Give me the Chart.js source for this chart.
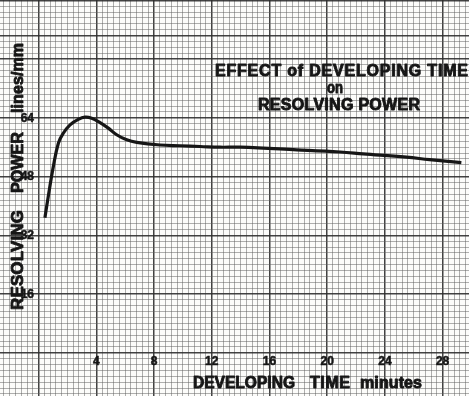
<!DOCTYPE html>
<html>
<head>
<meta charset="utf-8">
<script src="https://cdn.jsdelivr.net/npm/chart.js@4.4.1/dist/chart.umd.min.js"></script>
<style>
  html, body { margin: 0; padding: 0; background: #fcfcfa; }
  canvas { display: block; }
</style>
</head>
<body>
<canvas id="grafico" width="469" height="396"></canvas>
<script>
const devTime = [0.44, 0.67, 1.02, 1.37, 1.71, 2.18, 2.75, 3.22, 3.68, 4.26, 4.83, 5.41, 6.11, 6.80, 8.41, 9.80, 11.2, 12.57, 13.96, 17.9, 20.9, 22.5, 25.5, 27.1, 29.3];
const resolvingPower = [36.8, 42.6, 50.7, 57.1, 59.8, 62.1, 63.6, 64.2, 63.9, 62.7, 61.2, 59.4, 58.0, 57.3, 56.6, 56.4, 56.2, 56.0, 56.0, 55.3, 54.7, 54.2, 53.3, 52.6, 51.8];

// rótulos impressos no papel
const xTickLabels = [4, 8, 12, 16, 20, 24, 28];
const yTickLabels = [16, 32, 48, 64];
const titleLines = ["EFFECT of DEVELOPING TIME", "on", "RESOLVING POWER"];
const xTitle = ["DEVELOPING", "TIME", "minutes"];
const yTitle = ["RESOLVING", "POWER", "lines/mm"];

// papel: 10 divisões por quadrado maior
const X_MIN = -2.675, X_MAX = 29.83, X_STEP = 0.4;
const Y_MIN = -11.77, Y_MAX = 96.1, Y_STEP = 1.6;

const INK = "#161616";
const MINOR = "rgba(95,95,95,0.5)";
const MAJOR = "rgba(45,45,45,0.9)";

function gridTicks(min, max, step) {
  const out = [];
  for (let i = Math.ceil(min / step); i <= Math.floor(max / step); i++) {
    out.push({ value: +(i * step).toFixed(4), idx: i });
  }
  return out;
}

const isMajorX = (t) => t && t.idx % 10 === 0;
const isMajorY = (t) => t && (t.idx % 10 === 0 || t.idx === 54);

// ajusta o texto a uma largura (espaçamento ou compressão), com traço p/ engrossar
function fitText(ctx, text, x, y, w, rot) {
  ctx.save();
  ctx.translate(x, y);
  if (rot) ctx.rotate(rot);
  const n = ctx.measureText(text).width;
  if (n > w || !("letterSpacing" in ctx) || text.length < 2) {
    ctx.scale(w / n, 1);
  } else {
    ctx.letterSpacing = ((w - n) / (text.length - 1)).toFixed(2) + "px";
  }
  ctx.fillText(text, 0, 0);
  ctx.strokeText(text, 0, 0);
  ctx.restore();
}

const papel = {
  id: "papel",
  beforeDraw(chart) {
    const c = chart.ctx;
    c.save();
    c.fillStyle = "#fcfcfa";
    c.fillRect(0, 0, chart.width, chart.height);
    c.restore();
  },
  afterDraw(chart) {
    const c = chart.ctx;
    const xs = chart.scales.x, ys = chart.scales.y;
    c.save();
    c.fillStyle = INK;
    c.strokeStyle = INK;
    c.lineJoin = "round";
    c.textBaseline = "middle";

    // números dos eixos
    c.font = "bold 12px 'Liberation Sans', Arial, sans-serif";
    c.lineWidth = 0.5;
    c.textAlign = "center";
    xTickLabels.forEach((v) => {
      c.fillText(String(v), xs.getPixelForValue(v), 362);
      c.strokeText(String(v), xs.getPixelForValue(v), 362);
    });
    c.textAlign = "right";
    yTickLabels.forEach((v) => {
      c.fillText(String(v), 34, ys.getPixelForValue(v) + 0.5);
      c.strokeText(String(v), 34, ys.getPixelForValue(v) + 0.5);
    });

    c.textAlign = "left";
    c.textBaseline = "alphabetic";
    c.lineWidth = 0.9;
    c.font = "bold 16px 'Liberation Sans', Arial, sans-serif";

    // título
    fitText(c, titleLines[0], 215, 76, 253);
    fitText(c, titleLines[1], 327, 93, 16);
    fitText(c, titleLines[2], 258, 110, 162);

    // eixo x
    fitText(c, xTitle[0], 193, 388, 102);
    fitText(c, xTitle[1], 310, 388, 40);
    fitText(c, xTitle[2], 360, 388, 62);

    // eixo y (vertical)
    c.font = "bold 17px 'Liberation Sans', Arial, sans-serif";
    fitText(c, yTitle[0], 22.7, 310, 100, -Math.PI / 2);
    fitText(c, yTitle[1], 22.7, 193, 61, -Math.PI / 2);
    c.font = "bold 16px 'Liberation Sans', Arial, sans-serif";
    fitText(c, yTitle[2], 22.7, 113, 70, -Math.PI / 2);

    c.restore();
  }
};

const ctx = document.getElementById("grafico").getContext("2d");
new Chart(ctx, {
  type: "line",
  data: {
    datasets: [{
      data: devTime.map((t, i) => ({ x: t, y: resolvingPower[i] })),
      borderColor: INK,
      borderWidth: 3.2,
      pointRadius: 0,
      tension: 0.4,
      fill: false,
    }]
  },
  options: {
    responsive: false,
    animation: false,
    devicePixelRatio: 1,
    layout: { padding: 0 },
    plugins: { legend: { display: false }, tooltip: { enabled: false } },
    scales: {
      x: {
        type: "linear",
        min: X_MIN,
        max: X_MAX,
        afterBuildTicks: (s) => { s.ticks = gridTicks(X_MIN, X_MAX, X_STEP); },
        ticks: { display: false },
        border: { display: false },
        grid: {
          drawTicks: false,
          color: (c) => (isMajorX(c.tick) ? MAJOR : MINOR),
          lineWidth: (c) => (isMajorX(c.tick) ? 1.5 : 1),
        }
      },
      y: {
        type: "linear",
        min: Y_MIN,
        max: Y_MAX,
        afterBuildTicks: (s) => { s.ticks = gridTicks(Y_MIN, Y_MAX, Y_STEP); },
        ticks: { display: false },
        border: { display: false },
        grid: {
          drawTicks: false,
          color: (c) => (isMajorY(c.tick) ? MAJOR : MINOR),
          lineWidth: (c) => (isMajorY(c.tick) ? 1.5 : 1),
        }
      }
    }
  },
  plugins: [papel],
});
</script>
</body>
</html>
